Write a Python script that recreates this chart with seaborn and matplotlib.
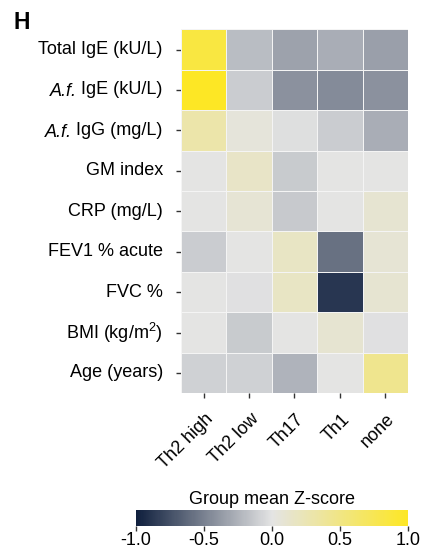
import numpy as np
import pandas as pd
import matplotlib
matplotlib.use("Agg")
import matplotlib.pyplot as plt
import matplotlib.transforms as mtransforms
import seaborn as sns
from matplotlib.colors import LinearSegmentedColormap

groups = ["Th2 high", "Th2 low", "Th17", "Th1", "none"]
variables = [
    "Total IgE (kU/L)",
    "A.f. IgE (kU/L)",
    "A.f. IgG (mg/L)",
    "GM index",
    "CRP (mg/L)",
    "FEV1 % acute",
    "FVC %",
    r"BMI (kg/m$^2$)",
    "Age (years)",
]
total_ige = [0.85, -0.20, -0.33, -0.28, -0.35]
af_ige = [1.00, -0.12, -0.42, -0.45, -0.42]
af_igg = [0.30, 0.05, -0.03, -0.12, -0.28]
gm_index = [0.00, 0.15, -0.13, 0.00, 0.00]
crp = [0.00, 0.08, -0.14, 0.00, 0.10]
fev1 = [-0.12, 0.00, 0.17, -0.58, 0.08]
fvc = [0.00, -0.02, 0.17, -0.88, 0.10]
bmi = [0.00, -0.13, 0.00, 0.10, -0.02]
age = [-0.10, -0.10, -0.25, 0.00, 0.45]
cbar_ticks = [-1.0, -0.5, 0.0, 0.5, 1.0]

df = pd.DataFrame([total_ige, af_ige, af_igg, gm_index, crp, fev1, fvc, bmi, age],
                  index=variables, columns=groups)

sns.set_style("white")
plt.rcParams["font.family"] = ["Liberation Sans", "DejaVu Sans"]
plt.rcParams["mathtext.fontset"] = "custom"
plt.rcParams["mathtext.rm"] = "Liberation Sans"
plt.rcParams["mathtext.it"] = "Liberation Sans:italic"
plt.rcParams["mathtext.bf"] = "Liberation Sans:bold"
plt.rcParams["text.color"] = "black"
plt.rcParams["xtick.color"] = "black"
plt.rcParams["ytick.color"] = "black"

FS = 13
cmap = LinearSegmentedColormap.from_list("zs", ["#0f1f3d", "#e4e4e4", "#fde725"])

fig = plt.figure(figsize=(4.35, 5.53), dpi=100)
ax = fig.add_axes([0.416, 0.289, 0.522, 0.658])
cax = fig.add_axes([0.313, 0.049, 0.625, 0.029])

sns.heatmap(df, ax=ax, cmap=cmap, vmin=-1, vmax=1, linewidths=0.6, linecolor="#f4f4f4",
            cbar_ax=cax, cbar_kws={"orientation": "horizontal", "ticks": cbar_ticks})

ax.tick_params(axis="both", left=True, bottom=True, length=3.6, width=1,
               color="#333333", labelcolor="black", labelsize=FS)
ax.tick_params(axis="y", pad=9.5)
ax.tick_params(axis="x", pad=9)
ax.set_xticklabels(groups, rotation=45, ha="right", rotation_mode="anchor")
shift = mtransforms.ScaledTranslation(1 / 100, 0, fig.dpi_scale_trans)
for lab in ax.get_xticklabels():
    lab.set_transform(lab.get_transform() + shift)

plain = [v.replace("A.f. ", "") for v in variables]
ax.set_yticklabels(plain, rotation=0)
ax.set_xlabel("")
ax.set_ylabel("")

fig.canvas.draw()
renderer = fig.canvas.get_renderer()
trans = mtransforms.blended_transform_factory(fig.transFigure, ax.transData)
for lab, full in zip(ax.get_yticklabels(), variables):
    if full.startswith("A.f. "):
        bb = lab.get_window_extent(renderer)
        xfig = (bb.x0 - 4) / fig.bbox.width
        ax.text(xfig, lab.get_position()[1], "A.f.", transform=trans, ha="right",
                va="center_baseline", fontsize=FS, fontstyle="italic", clip_on=False)

cbar = ax.collections[0].colorbar
cbar.outline.set_visible(False)
cax.tick_params(bottom=True, labelsize=FS, length=3.6, width=1, color="#333333",
                labelcolor="black", pad=1)
cax.set_xticklabels([f"{t:.1f}" for t in cbar_ticks])
cax.set_title("Group mean Z-score", fontsize=FS, pad=4)

fig.text(0.032, 0.948, "H", fontsize=16.5, fontweight="bold")

fig.savefig("out.png", dpi=100)
